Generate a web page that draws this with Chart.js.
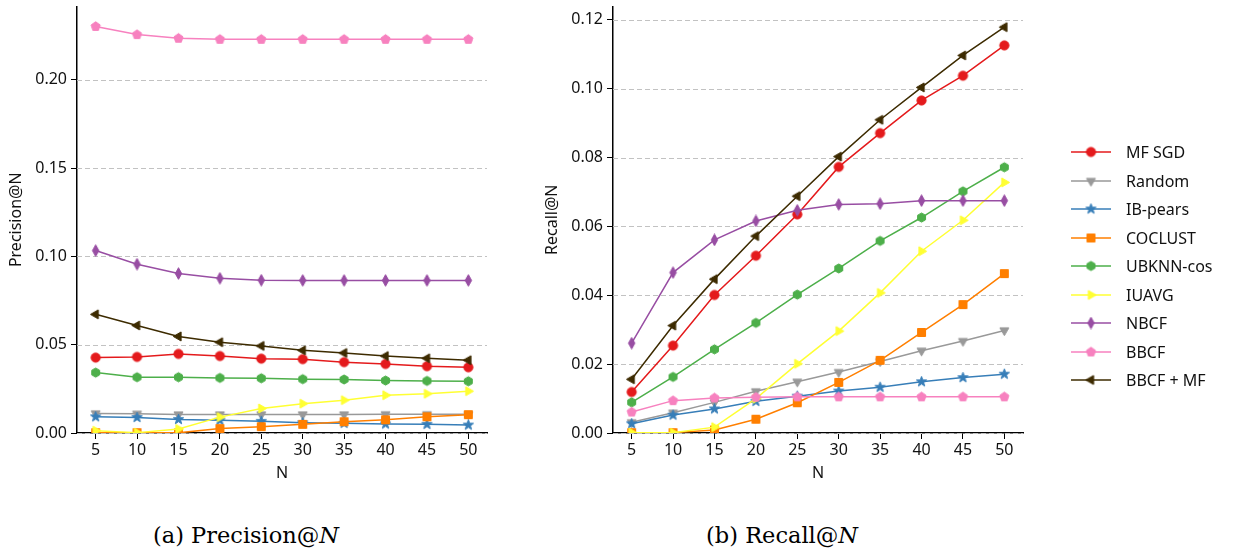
<!DOCTYPE html>
<html>
<head>
<meta charset="utf-8">
<script src="https://cdn.jsdelivr.net/npm/chart.js@4.4.1/dist/chart.umd.min.js"></script>
<style>
  body { margin: 0; background: #fff; width: 1236px; height: 554px; position: relative; overflow: hidden; }
  canvas.plot { position: absolute; top: 0; }
  #legend { position: absolute; left: 1069px; top: 138px; font-family: 'Noto Sans', sans-serif; font-size: 16px; color: #111; }
  .row { height: 28.5px; display: flex; align-items: center; }
  .row canvas { margin-right: 13px; }
  .caption { position: absolute; top: 522px; font-family: 'DejaVu Serif', serif; font-size: 22.5px; color: #000; transform: translateX(-50%); white-space: nowrap; }
</style>
</head>
<body>
<canvas id="precChart" class="plot" width="500" height="490" style="left:0px"></canvas>
<canvas id="recChart" class="plot" width="500" height="490" style="left:540px"></canvas>
<div id="legend"></div>
<div class="caption" style="left:246px">(a) Precision@<i>N</i></div>
<div class="caption" style="left:782px">(b) Recall@<i>N</i></div>
<script>
// N values (x axis)
const topN = [5, 10, 15, 20, 25, 30, 35, 40, 45, 50];
const methods = ['MF SGD', 'Random', 'IB-pears', 'COCLUST', 'UBKNN-cos', 'IUAVG', 'NBCF', 'BBCF', 'BBCF + MF'];

// Precision@N
const precMF      = [0.0427, 0.0431, 0.0448, 0.0436, 0.0421, 0.0418, 0.0401, 0.0391, 0.0378, 0.0372];
const precRandom  = [0.0111, 0.0109, 0.0105, 0.0105, 0.0105, 0.0105, 0.0105, 0.0106, 0.0106, 0.0106];
const precIB      = [0.0092, 0.0088, 0.0077, 0.0072, 0.0066, 0.0058, 0.0055, 0.0051, 0.0049, 0.0045];
const precCoclust = [0.0002, 0.0002, 0.0001, 0.0025, 0.0036, 0.0049, 0.0064, 0.0075, 0.0092, 0.0104];
const precUBKNN   = [0.0342, 0.0316, 0.0316, 0.0312, 0.0310, 0.0305, 0.0303, 0.0297, 0.0295, 0.0293];
const precIUAVG   = [0.0013, 0.0002, 0.0023, 0.0090, 0.0139, 0.0166, 0.0186, 0.0214, 0.0222, 0.0237];
const precNBCF    = [0.1033, 0.0956, 0.0903, 0.0876, 0.0865, 0.0864, 0.0864, 0.0864, 0.0864, 0.0864];
const precBBCF    = [0.2302, 0.2256, 0.2235, 0.2229, 0.2229, 0.2229, 0.2229, 0.2229, 0.2229, 0.2229];
const precBBCFMF  = [0.0672, 0.0609, 0.0547, 0.0514, 0.0493, 0.0468, 0.0453, 0.0436, 0.0423, 0.0412];

// Recall@N
const recMF      = [0.0119, 0.0254, 0.0401, 0.0515, 0.0635, 0.0773, 0.0871, 0.0966, 0.1038, 0.1126];
const recRandom  = [0.0031, 0.0059, 0.0089, 0.0121, 0.0149, 0.0177, 0.0208, 0.0239, 0.0267, 0.0298];
const recIB      = [0.0027, 0.0052, 0.0070, 0.0092, 0.0107, 0.0122, 0.0133, 0.0149, 0.0161, 0.0171];
const recCoclust = [0.0001, 0.0001, 0.0009, 0.0040, 0.0088, 0.0147, 0.0211, 0.0292, 0.0373, 0.0463];
const recUBKNN   = [0.0089, 0.0163, 0.0243, 0.0320, 0.0402, 0.0478, 0.0558, 0.0626, 0.0702, 0.0772];
const recIUAVG   = [0.0001, 0.0001, 0.0017, 0.0100, 0.0201, 0.0296, 0.0407, 0.0528, 0.0618, 0.0728];
const recNBCF    = [0.0261, 0.0466, 0.0561, 0.0616, 0.0647, 0.0664, 0.0666, 0.0675, 0.0675, 0.0675];
const recBBCF    = [0.0061, 0.0094, 0.0102, 0.0104, 0.0105, 0.0105, 0.0105, 0.0105, 0.0105, 0.0105];
const recBBCFMF  = [0.0156, 0.0312, 0.0447, 0.0572, 0.0688, 0.0803, 0.0910, 0.1004, 0.1097, 0.1179];

const precSeries = [precMF, precRandom, precIB, precCoclust, precUBKNN, precIUAVG, precNBCF, precBBCF, precBBCFMF];
const recSeries  = [recMF, recRandom, recIB, recCoclust, recUBKNN, recIUAVG, recNBCF, recBBCF, recBBCFMF];

const colors  = ['#e41a1c', '#999999', '#377eb8', '#ff7f00', '#4daf4a', '#ffff33', '#984ea3', '#f781bf', '#3d2b00'];
const markers = ['circle', 'tridown', 'star', 'square', 'hexagon', 'triright', 'thindiamond', 'pentagon', 'trileft'];

// build small canvases for matplotlib-like markers
function polygon(ctx, cx, cy, r, n, rot) {
    ctx.beginPath();
    for (let k = 0; k < n; k++) {
        const a = rot + k * 2 * Math.PI / n;
        ctx.lineTo(cx + r * Math.cos(a), cy + r * Math.sin(a));
    }
    ctx.closePath();
}
function makeMarker(kind, color) {
    const s = 13, c = s / 2;
    const cv = document.createElement('canvas');
    cv.width = s; cv.height = s;
    const ctx = cv.getContext('2d');
    ctx.fillStyle = color;
    ctx.strokeStyle = color;
    ctx.lineWidth = 1;
    switch (kind) {
        case 'circle':
            ctx.beginPath(); ctx.arc(c, c, 4.6, 0, 2 * Math.PI); break;
        case 'tridown':
            polygon(ctx, c, c, 5.2, 3, Math.PI / 2); break;
        case 'trileft':
            polygon(ctx, c, c, 5.2, 3, Math.PI); break;
        case 'triright':
            polygon(ctx, c, c, 5.2, 3, 0); break;
        case 'square':
            ctx.beginPath(); ctx.rect(c - 4, c - 4, 8, 8); break;
        case 'hexagon':
            polygon(ctx, c, c, 4.6, 6, -Math.PI / 2); break;
        case 'pentagon':
            polygon(ctx, c, c, 4.8, 5, -Math.PI / 2); break;
        case 'thindiamond':
            ctx.beginPath();
            ctx.moveTo(c, c - 5.8); ctx.lineTo(c + 3.2, c); ctx.lineTo(c, c + 5.8); ctx.lineTo(c - 3.2, c);
            ctx.closePath(); break;
        case 'star':
            ctx.beginPath();
            for (let k = 0; k < 10; k++) {
                const r = k % 2 === 0 ? 5.4 : 2.2;
                const a = -Math.PI / 2 + k * Math.PI / 5;
                ctx.lineTo(c + r * Math.cos(a), c + r * Math.sin(a));
            }
            ctx.closePath(); break;
    }
    ctx.fill();
    ctx.stroke();
    return cv;
}
const markerImgs = methods.map((m, i) => makeMarker(markers[i], colors[i]));

// dashed horizontal grid lines like matplotlib's ax.grid(axis='y', ls='--')
const dashedGrid = {
    id: 'dashedGrid',
    beforeDatasetsDraw(chart) {
        const {ctx, chartArea} = chart;
        const y = chart.scales.y;
        ctx.save();
        ctx.strokeStyle = '#c2c2c2';
        ctx.lineWidth = 1;
        ctx.setLineDash([5, 3]);
        y.ticks.forEach(t => {
            const py = Math.round(y.getPixelForValue(t.value)) + 0.5;
            ctx.beginPath();
            ctx.moveTo(chartArea.left, py);
            ctx.lineTo(chartArea.right, py);
            ctx.stroke();
        });
        ctx.restore();
    }
};

const tickFont = { family: "'Noto Sans', sans-serif", size: 16 };

function makeChart(id, series, yMax, yStep, yTitle, yWidth, titlePad, padRight) {
    const datasets = series.map((vals, i) => ({
        label: methods[i],
        data: topN.map((n, j) => ({ x: n, y: vals[j] })),
        borderColor: colors[i],
        backgroundColor: colors[i],
        borderWidth: 1.5,
        pointStyle: markerImgs[i],
        pointRadius: 5,
        tension: 0,
        order: series.length - 1 - i
    }));
    return new Chart(document.getElementById(id), {
        type: 'line',
        data: { datasets },
        options: {
            responsive: false,
            animation: false,
            layout: { padding: { top: 5, right: padRight, left: 0, bottom: 0 } },
            plugins: { legend: { display: false }, tooltip: { enabled: false } },
            scales: {
                x: {
                    type: 'linear',
                    min: 2.75,
                    max: 52.25,
                    afterBuildTicks: s => { s.ticks = topN.map(v => ({ value: v })); },
                    afterFit: s => { s.height = 57; s.paddingLeft = 0; s.paddingRight = 0; },
                    grid: { drawOnChartArea: false, drawTicks: true, tickLength: 6, color: '#000' },
                    border: { display: true, color: '#000', width: 1.5 },
                    ticks: { font: tickFont, color: '#111', padding: 2, maxRotation: 0 },
                    title: { display: true, text: 'N', font: tickFont, color: '#111', padding: { top: 0, bottom: 7 } }
                },
                y: {
                    min: 0,
                    max: yMax,
                    afterFit: s => { s.width = yWidth; s.paddingTop = 0; s.paddingBottom = 0; },
                    grid: { drawOnChartArea: false, drawTicks: true, tickLength: 6, color: '#000' },
                    border: { display: true, color: '#000', width: 1.5 },
                    ticks: {
                        stepSize: yStep,
                        includeBounds: false,
                        font: tickFont,
                        color: '#111',
                        padding: 4,
                        callback: v => v.toFixed(2)
                    },
                    title: { display: true, text: yTitle, font: tickFont, color: '#111', padding: { top: titlePad, bottom: 0 } }
                }
            }
        },
        plugins: [dashedGrid]
    });
}

makeChart('precChart', precSeries, 0.2415, 0.05, 'Precision@N', 77, 7, 13);
makeChart('recChart', recSeries, 0.1239, 0.02, 'Recall@N', 73, 3, 17);

// legend with line + marker, like matplotlib
const legend = document.getElementById('legend');
methods.forEach((m, i) => {
    const row = document.createElement('div');
    row.className = 'row';
    const cv = document.createElement('canvas');
    cv.width = 44; cv.height = 20;
    const ctx = cv.getContext('2d');
    ctx.strokeStyle = colors[i];
    ctx.lineWidth = 1.5;
    ctx.beginPath(); ctx.moveTo(2, 10); ctx.lineTo(42, 10); ctx.stroke();
    ctx.drawImage(markerImgs[i], 22 - markerImgs[i].width / 2, 10 - markerImgs[i].height / 2);
    row.appendChild(cv);
    const txt = document.createElement('span');
    txt.textContent = m;
    row.appendChild(txt);
    legend.appendChild(row);
});
</script>
</body>
</html>
